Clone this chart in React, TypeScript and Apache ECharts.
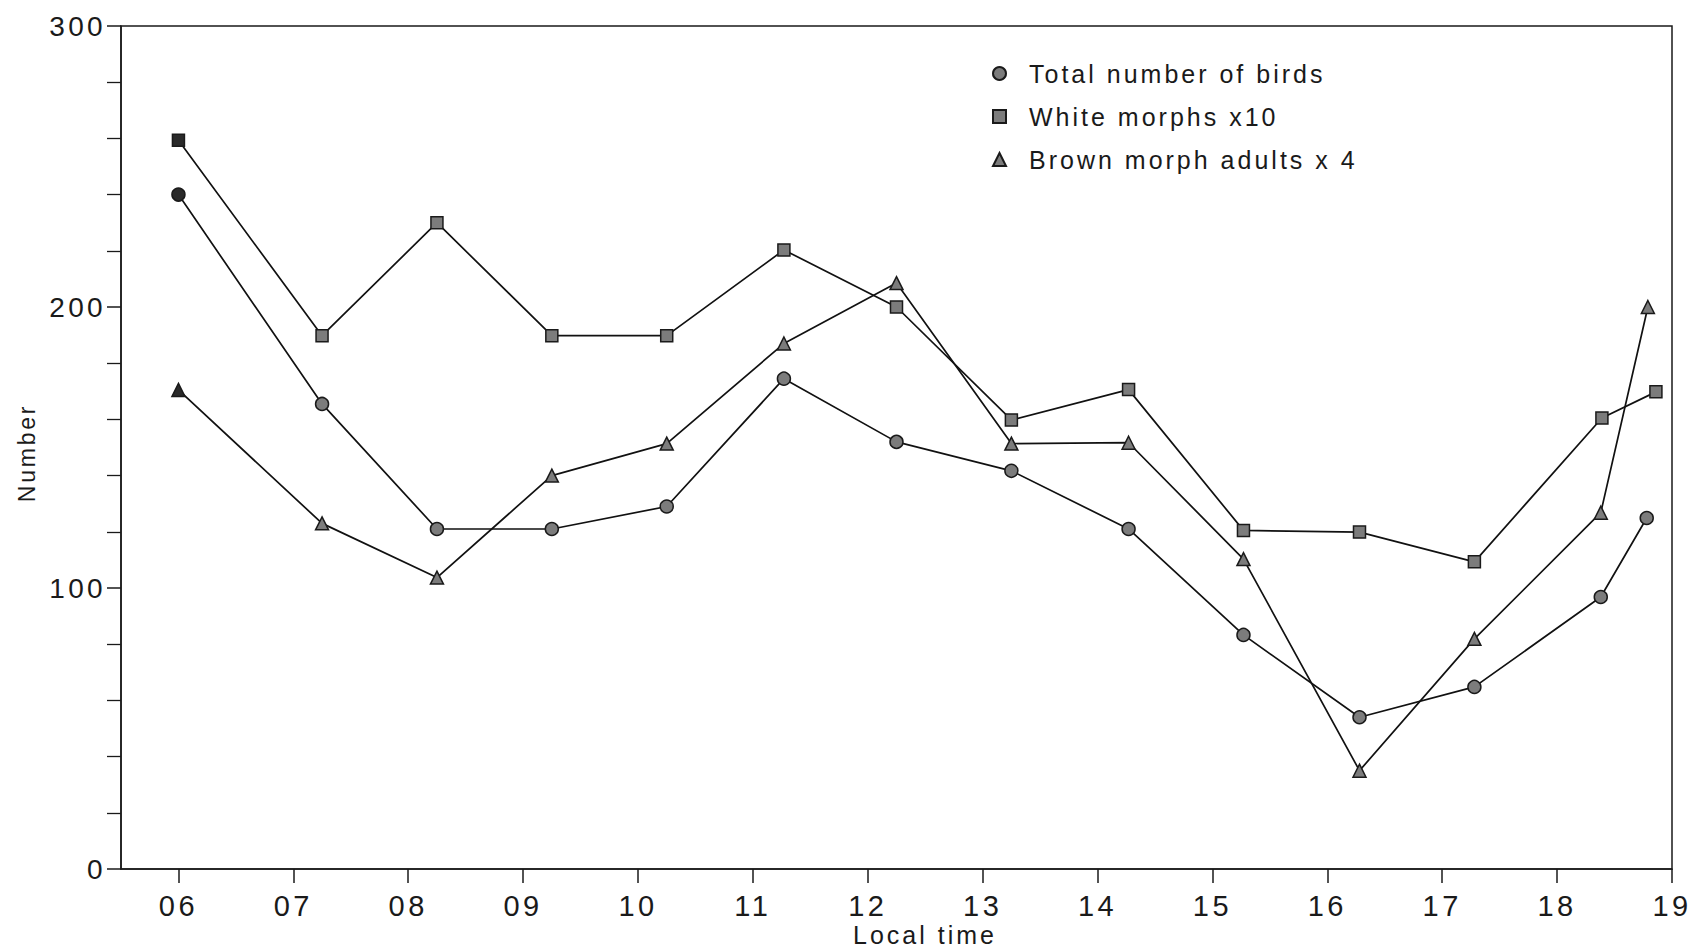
import React, { useEffect, useRef } from "react";
import * as echarts from "echarts";

// Local time (hours) of each count
const timesTotal = [6.0, 7.25, 8.25, 9.25, 10.25, 11.27, 12.25, 13.25, 14.27, 15.27, 16.28, 17.28, 18.38, 18.78];
const timesWhite = [6.0, 7.25, 8.25, 9.25, 10.25, 11.27, 12.25, 13.25, 14.27, 15.27, 16.28, 17.28, 18.39, 18.86];
const timesBrown = [6.0, 7.25, 8.25, 9.25, 10.25, 11.27, 12.25, 13.25, 14.27, 15.27, 16.28, 17.28, 18.38, 18.79];

const totalBirds = [240, 165.5, 121, 121, 129, 174.5, 152, 141.7, 121, 83.3, 54, 64.8, 96.8, 124.9];
const whiteMorphsX10 = [259.3, 189.8, 230, 189.8, 189.8, 220.3, 200, 159.8, 170.6, 120.5, 119.9, 109.3, 160.5, 169.8];
const brownAdultsX4 = [170.5, 123, 103.7, 140, 151.4, 187, 208.5, 151.4, 151.7, 110.3, 35, 81.9, 126.8, 200];

const hourTicks = [6, 7, 8, 9, 10, 11, 12, 13, 14, 15, 16, 17, 18, 19];
const seriesNames = ["Total number of birds", "White morphs x10", "Brown morph adults x 4"];

const FONT = "'Liberation Sans', Arial, Helvetica, sans-serif";
const INK = "#1a1a1a";

function pairs(xs: number[], ys: number[]) {
  return xs.map((x, i) =>
    i === 0
      ? { value: [x, ys[i]], itemStyle: { color: "#2a2a2a" } }
      : { value: [x, ys[i]] }
  );
}

export default function App() {
  const ref = useRef<HTMLDivElement>(null);

  useEffect(() => {
    if (!ref.current) return;
    const chart = echarts.init(ref.current, null, { renderer: "svg" });

    const markerStyle = {
      color: "#7c7c7c",
      borderColor: "#1a1a1a",
      borderWidth: 1.5,
    };
    const lineStyle = { color: "#111", width: 1.7 };

    const mk = (name: string, data: any[], symbol: string, size: number) => ({
      name,
      type: "line",
      data,
      symbol,
      symbolSize: size,
      showAllSymbol: true,
      lineStyle,
      itemStyle: markerStyle,
      emphasis: { disabled: true },
    });

    chart.setOption({
      animation: false,
      backgroundColor: "#ffffff",
      grid: {
        left: 121,
        right: 21,
        top: 26,
        bottom: 80,
        show: true,
        borderColor: INK,
        borderWidth: 1.5,
        backgroundColor: "transparent",
      },
      legend: {
        orient: "vertical",
        left: 987,
        top: 56,
        itemWidth: 13,
        itemHeight: 13,
        itemGap: 18,
        selectedMode: false,
        data: [
          { name: seriesNames[0], icon: "circle" },
          { name: seriesNames[1], icon: "rect" },
          { name: seriesNames[2], icon: "triangle" },
        ],
        textStyle: {
          fontFamily: FONT,
          fontSize: 25,
          color: INK,
          padding: [0, 0, 0, 18],
        },
      },
      xAxis: {
        type: "value",
        min: 5.5,
        max: 19,
        axisLine: { show: true, onZero: false, lineStyle: { color: INK, width: 1.5 } },
        axisTick: {
          show: true,
          length: 14,
          customValues: hourTicks,
          lineStyle: { color: INK, width: 1.5 },
        },
        axisLabel: {
          show: true,
          customValues: hourTicks,
          margin: 22,
          fontFamily: FONT,
          fontSize: 29,
          color: INK,
          formatter: (v: number) => (v < 10 ? "0" + v : String(v)),
        },
        splitLine: { show: false },
      },
      yAxis: {
        type: "value",
        min: 0,
        max: 300,
        interval: 100,
        axisLine: { show: true, onZero: false, lineStyle: { color: INK, width: 1.5 } },
        axisTick: { show: true, length: 14, lineStyle: { color: INK, width: 1.5 } },
        minorTick: { show: true, splitNumber: 5, length: 14, lineStyle: { color: INK, width: 1.3 } },
        axisLabel: {
          margin: 15,
          fontFamily: FONT,
          fontSize: 28,
          color: INK,
        },
        splitLine: { show: false },
        minorSplitLine: { show: false },
      },
      graphic: [
        {
          type: "text",
          x: 27,
          y: 453,
          rotation: Math.PI / 2,
          style: {
            text: "Number",
            fontFamily: FONT,
            fontSize: 23,
            fill: INK,
            align: "center",
            verticalAlign: "middle",
          },
        },
        {
          type: "text",
          x: 925,
          y: 935,
          style: {
            text: "Local time",
            fontFamily: FONT,
            fontSize: 25,
            fill: INK,
            align: "center",
            verticalAlign: "middle",
          },
        },
      ],
      series: [
        mk(seriesNames[0], pairs(timesTotal, totalBirds), "circle", 13),
        mk(seriesNames[1], pairs(timesWhite, whiteMorphsX10), "rect", 12),
        mk(seriesNames[2], pairs(timesBrown, brownAdultsX4), "triangle", 13),
      ],
    });

    return () => {
      chart.dispose();
    };
  }, []);

  return (
    <>
      <style>{`#chart-root text { letter-spacing: 0.12em; }`}</style>
      <div
        id="chart-root"
        ref={ref}
        style={{ position: "fixed", left: 0, top: 0, width: 1693, height: 949, background: "#fff" }}
      />
    </>
  );
}
